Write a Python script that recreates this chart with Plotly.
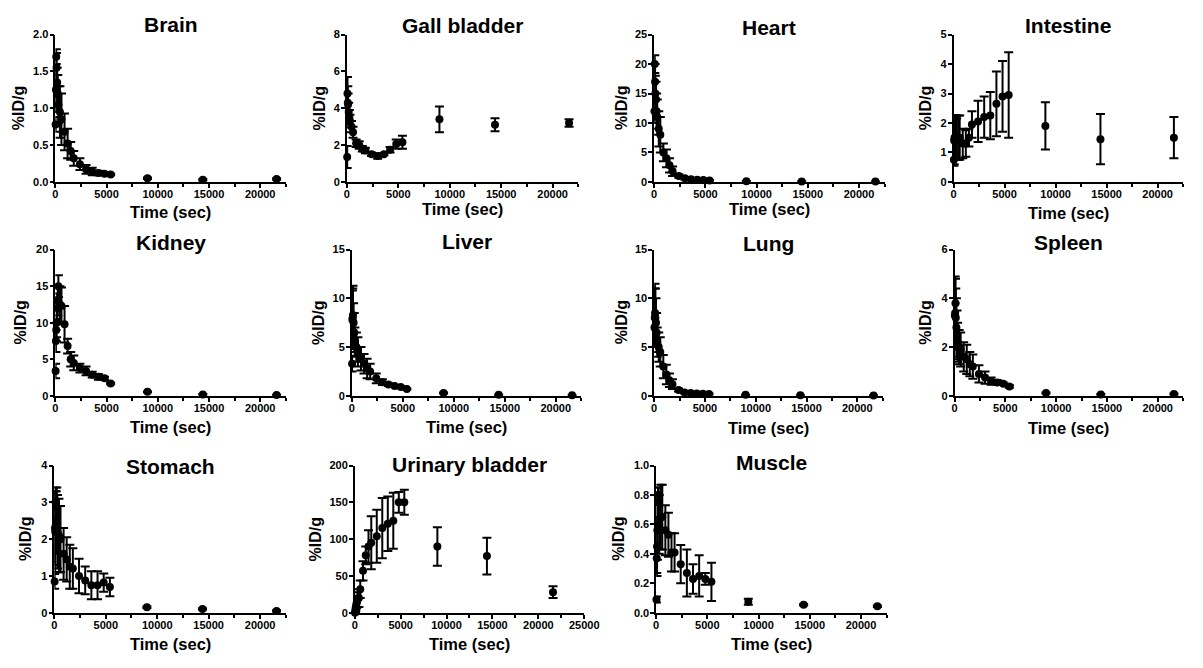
import plotly.graph_objects as go

# The page keeps the browser's default 8 px body margin; the figure is sized so the
# whole page fits the 1203x668 window, and layout positions are given in page pixels.
PAGE_W, PAGE_H = 1203, 668
OFF = 8
W, H = PAGE_W - OFF, PAGE_H - 2 * OFF

# ---------------- data ----------------
time_sec = [30, 60, 90, 120, 180, 240, 300, 450, 600, 900, 1200, 1500, 1800,
            2400, 3000, 3600, 4200, 4800, 5400, 9000, 14400, 21600]

brain_mean = [0.78, 1.25, 1.7, 1.55, 1.35, 1.2, 1.05, 0.95, 0.85, 0.68, 0.52, 0.42, 0.32,
              0.24, 0.17, 0.14, 0.12, 0.11, 0.1, 0.05, 0.03, 0.04]
brain_sd = [0.1, 0.3, 0.1, 0.2, 0.2, 0.25, 0.25, 0.35, 0.35, 0.25, 0.2, 0.12, 0.1,
            0.08, 0.06, 0.05, 0.03, 0.02, 0.01, 0.01, 0.01, 0.01]

gall_mean = [1.35, 4.8, 4.3, 4.2, 3.8, 3.5, 3.3, 3.0, 2.7, 2.1, 2.0, 1.8, 1.7,
             1.5, 1.4, 1.5, 1.75, 2.05, 2.15, 3.4, 3.1, 3.2]
gall_sd = [0.6, 0.9, 0.9, 0.6, 0.5, 0.4, 0.35, 0.3, 0.3, 0.2, 0.2, 0.15, 0.15,
           0.1, 0.15, 0.05, 0.15, 0.25, 0.35, 0.7, 0.35, 0.2]

heart_mean = [12, 20, 17, 15, 14, 12, 11, 9, 8, 5, 4, 2.8, 1.8,
              1.0, 0.6, 0.45, 0.35, 0.3, 0.25, 0.12, 0.08, 0.05]
heart_sd = [2, 1.5, 3, 3, 3, 3, 3, 3, 3, 1.5, 1.5, 1.2, 0.8,
            0.3, 0.2, 0.1, 0.1, 0.05, 0.05, 0.02, 0.02, 0.02]

intestine_mean = [0.75, 1.4, 1.5, 1.45, 1.5, 1.5, 1.45, 1.5, 1.5, 1.3, 1.3, 1.5, 1.95,
                  2.05, 2.2, 2.25, 2.65, 2.9, 2.95, 1.9, 1.45, 1.5]
intestine_sd = [0.2, 0.8, 0.75, 0.7, 0.75, 0.75, 0.7, 0.75, 0.75, 0.5, 0.45, 0.3, 0.45,
                0.7, 0.7, 0.8, 1.1, 1.2, 1.45, 0.8, 0.85, 0.7]

kidney_mean = [3.4, 7.5, 9, 10, 12, 13, 15, 12.5, 12.3, 9.8, 6.8, 5.0, 4.5,
               3.8, 3.4, 2.9, 2.6, 2.4, 1.7, 0.55, 0.2, 0.1]
kidney_sd = [1, 1.5, 1.5, 2, 2, 2, 1.5, 2.5, 2.5, 2.5, 1, 1, 1,
             0.6, 0.6, 0.4, 0.4, 0.2, 0.1, 0.05, 0.05, 0.05]

liver_mean = [3.3, 7.8, 8, 8.3, 7.5, 6.5, 5.5, 5.0, 4.5, 3.8, 3.3, 2.8, 2.5,
              1.8, 1.4, 1.15, 1.0, 0.9, 0.7, 0.3, 0.1, 0.05]
liver_sd = [0.8, 3, 3, 3, 2, 2, 1.5, 1.5, 1.5, 1.2, 1, 1, 0.8,
            0.5, 0.3, 0.15, 0.1, 0.1, 0.05, 0.05, 0.02, 0.02]

lung_mean = [7, 8, 8.5, 8, 7.5, 6.5, 5.5, 5, 4.5, 3, 2.2, 1.6, 1.2,
             0.6, 0.35, 0.3, 0.25, 0.22, 0.2, 0.1, 0.05, 0.03]
lung_sd = [1, 3, 3, 3, 2.5, 2, 1.5, 1.5, 1.5, 1.2, 1.0, 0.7, 0.5,
           0.15, 0.1, 0.05, 0.05, 0.05, 0.05, 0.02, 0.02, 0.02]

spleen_mean = [3.3, 3.4, 3.8, 3.2, 2.8, 2.5, 2.2, 2.0, 1.9, 1.6, 1.5, 1.3, 1.2,
               0.9, 0.75, 0.6, 0.55, 0.5, 0.38, 0.12, 0.06, 0.08]
spleen_sd = [0.5, 1.5, 1.0, 1.2, 1.2, 1.0, 0.8, 0.7, 0.7, 0.6, 0.6, 0.5, 0.5,
             0.35, 0.25, 0.15, 0.1, 0.05, 0.05, 0.02, 0.02, 0.02]

stomach_mean = [0.85, 2.3, 2.2, 3.0, 2.9, 2.5, 2.2, 2.1, 2.0, 1.6, 1.45, 1.25, 1.2,
                1.0, 0.88, 0.75, 0.75, 0.82, 0.7, 0.15, 0.1, 0.05]
stomach_sd = [0.2, 1.0, 1.1, 0.4, 0.4, 0.9, 1.0, 1.0, 0.9, 0.7, 0.6, 0.6, 0.55,
              0.47, 0.38, 0.38, 0.38, 0.25, 0.25, 0.02, 0.02, 0.02]

urinary_mean = [0, 2, 5, 8, 12, 15, 18, 20, 32, 57, 78, 90, 95,
                104, 115, 121, 125, 150, 150, 90, 77, 28]
urinary_sd = [1, 2, 4, 5, 6, 8, 10, 12, 12, 13, 12, 22, 36,
              36, 41, 37, 38, 14, 17, 26, 25, 8]

muscle_mean = [0.09, 0.37, 0.45, 0.56, 0.8, 0.75, 0.6, 0.65, 0.65, 0.56, 0.53, 0.41, 0.41,
               0.33, 0.27, 0.23, 0.25, 0.23, 0.21, 0.075, 0.055, 0.045]
muscle_sd = [0.02, 0.1, 0.2, 0.2, 0.05, 0.1, 0.2, 0.22, 0.22, 0.17, 0.15, 0.13, 0.13,
             0.13, 0.16, 0.1, 0.14, 0.04, 0.13, 0.02, 0.005, 0.005]

organ_names = ["Brain", "Gall bladder", "Heart", "Intestine", "Kidney", "Liver",
               "Lung", "Spleen", "Stomach", "Urinary bladder", "Muscle"]
organ_means = [brain_mean, gall_mean, heart_mean, intestine_mean, kidney_mean, liver_mean,
               lung_mean, spleen_mean, stomach_mean, urinary_mean, muscle_mean]
organ_sds = [brain_sd, gall_sd, heart_sd, intestine_sd, kidney_sd, liver_sd,
             lung_sd, spleen_sd, stomach_sd, urinary_sd, muscle_sd]
y_max = [2, 8, 25, 5, 20, 15, 15, 6, 4, 200, 1]
y_step = [0.5, 2, 5, 1, 5, 5, 5, 2, 1, 50, 0.2]
y_fmt = [".1f", "d", "d", "d", "d", "d", "d", "d", "d", "d", ".1f"]
x_max = [22500] * 9 + [25000, 22500]

# ---------------- layout (page pixel boxes: left, right, top, bottom) ----------------
boxes = [(53, 287, 29, 179), (349, 584, 29, 179), (661, 895, 29, 179), (965, 1198, 29, 179),
         (53, 287, 248, 397), (354, 587, 248, 397), (661, 893, 248, 397), (966, 1198, 248, 397),
         (52, 287, 468, 618), (357, 590, 468, 618), (663, 897, 468, 618)]
title_y = [19, 20, 22, 20, 241, 240, 242, 241, 469, 467, 465]
xtitle_y = [210, 207, 207, 211, 429, 429, 430, 430, 650, 650, 650]
ytitle_x = [15, 321, 628, 936, 18, 320, 628, 937, 22, 317, 624]

FONT = "Liberation Sans, Arial, sans-serif"


def px(x):
    return (x - OFF) / W


def py(y):
    return 1 - (y - OFF) / H


fig = go.Figure()
annotations = []
for i, name in enumerate(organ_names):
    l, r, t, b = boxes[i]
    sfx = "" if i == 0 else str(i + 1)
    fig.add_trace(go.Scatter(
        x=time_sec, y=organ_means[i],
        mode="markers",
        marker=dict(color="black", size=8, symbol="circle"),
        error_y=dict(type="data", array=organ_sds[i], visible=True,
                     color="black", thickness=2, width=4.5),
        cliponaxis=False, showlegend=False, hoverinfo="skip",
        xaxis="x" + sfx, yaxis="y" + sfx,
    ))
    axis_common = dict(showline=True, linecolor="black", linewidth=1.5,
                       ticks="outside", ticklen=4, tickwidth=1.5, tickcolor="black",
                       showgrid=False, zeroline=False, fixedrange=True,
                       tickfont=dict(family=FONT, size=11, color="black", weight="bold"))
    fig.layout["xaxis" + sfx] = dict(
        domain=[px(l), px(r)], anchor="y" + sfx, range=[0, x_max[i]],
        tick0=0, dtick=5000, tickformat="d", ticklabelstandoff=-3,
        minor=dict(dtick=2500, ticks="outside", ticklen=3, tickwidth=1.5, tickcolor="black"),
        **axis_common)
    fig.layout["yaxis" + sfx] = dict(
        domain=[py(b), py(t)], anchor="x" + sfx, range=[0, y_max[i]],
        tick0=0, dtick=y_step[i], tickformat=y_fmt[i], ticklabelstandoff=-1,
        **axis_common)
    cx = (l + r) / 2
    annotations.append(dict(text="<b>%s</b>" % name, x=px(cx), y=py(title_y[i]),
                            xref="paper", yref="paper", xanchor="center", yanchor="middle",
                            showarrow=False, font=dict(family=FONT, size=21, color="black")))
    annotations.append(dict(text="<b>Time (sec)</b>", x=px(cx), y=py(xtitle_y[i]),
                            xref="paper", yref="paper", xanchor="center", yanchor="middle",
                            showarrow=False, font=dict(family=FONT, size=16.5, color="black")))
    annotations.append(dict(text="<b>%ID/g</b>", x=px(ytitle_x[i]), y=py((t + b) / 2),
                            xref="paper", yref="paper", xanchor="center", yanchor="middle",
                            textangle=-90, showarrow=False,
                            font=dict(family=FONT, size=16, color="black")))

fig.update_layout(width=W, height=H, margin=dict(l=0, r=0, t=0, b=0),
                  paper_bgcolor="white", plot_bgcolor="white", hovermode=False,
                  annotations=annotations, showlegend=False)

fig.write_html("out.html", config={"displayModeBar": False})
